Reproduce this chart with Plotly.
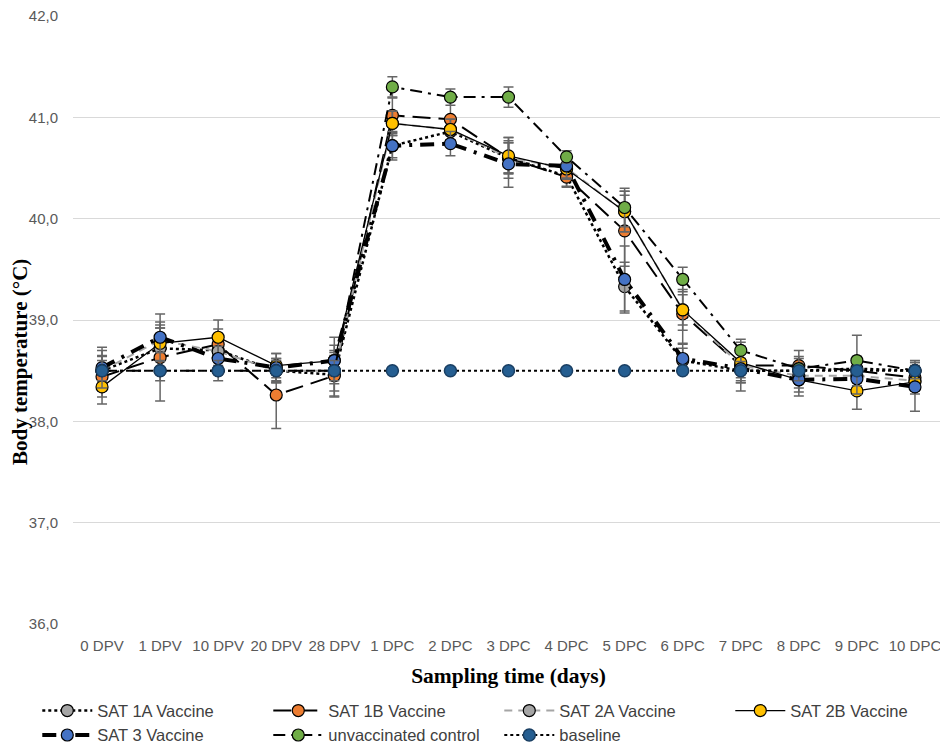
import plotly.graph_objects as go

# sampling points
days = ["0 DPV", "1 DPV", "10 DPV", "20 DPV", "28 DPV", "1 DPC", "2 DPC", "3 DPC",
        "4 DPC", "5 DPC", "6 DPC", "7 DPC", "8 DPC", "9 DPC", "10 DPC"]

# mean body temperature per group
sat1a = [38.50, 38.72, 38.70, 38.50, 38.46, 40.72, 40.86, 40.60, 40.42, 39.33, 38.60, 38.50, 38.50, 38.52, 38.50]
sat1b = [38.44, 38.63, 38.76, 38.26, 38.45, 41.02, 40.98, 40.60, 40.41, 39.88, 39.06, 38.55, 38.55, 38.50, 38.43]
sat2a = [38.50, 38.80, 38.69, 38.50, 38.50, 40.94, 40.88, 40.60, 40.50, 40.07, 39.10, 38.55, 38.45, 38.45, 38.40]
sat2b = [38.34, 38.77, 38.83, 38.55, 38.60, 40.94, 40.88, 40.62, 40.49, 40.07, 39.10, 38.58, 38.41, 38.30, 38.39]
sat3 = [38.53, 38.83, 38.62, 38.53, 38.60, 40.72, 40.74, 40.54, 40.52, 39.40, 38.62, 38.52, 38.41, 38.42, 38.34]
control = [38.50, 38.50, 38.50, 38.50, 38.50, 41.30, 41.20, 41.20, 40.61, 40.11, 39.40, 38.70, 38.52, 38.60, 38.50]
baseline = [38.5] * 15

# error bar half-widths
sat1a_err = [0.20, 0.20, 0.15, 0.12, 0.22, 0.12, 0.10, 0.15, 0.10, 0.24, 0.12, 0.12, 0.12, 0.12, 0.10]
sat1b_err = [0.20, 0.43, 0.15, 0.33, 0.20, 0.17, 0.22, 0.20, 0.10, 0.35, 0.30, 0.15, 0.15, 0.12, 0.12]
sat2a_err = [0.15, 0.12, 0.15, 0.12, 0.20, 0.12, 0.10, 0.15, 0.10, 0.20, 0.15, 0.12, 0.12, 0.12, 0.10]
sat2b_err = [0.17, 0.18, 0.17, 0.12, 0.15, 0.12, 0.10, 0.18, 0.10, 0.20, 0.20, 0.20, 0.12, 0.18, 0.12]
sat3_err = [0.20, 0.15, 0.12, 0.14, 0.23, 0.14, 0.12, 0.23, 0.12, 0.33, 0.15, 0.22, 0.16, 0.15, 0.24]
control_err = [0.10, 0.10, 0.10, 0.10, 0.10, 0.10, 0.08, 0.10, 0.06, 0.19, 0.12, 0.11, 0.12, 0.25, 0.08]

series = [
    ("SAT 1A Vaccine", sat1a, sat1a_err, "#A5A5A5", dict(color="black", width=2.5, dash="dot")),
    ("SAT 1B Vaccine", sat1b, sat1b_err, "#ED7D31", dict(color="black", width=2, dash="18px,8px")),
    ("SAT 2A Vaccine", sat2a, sat2a_err, "#A5A5A5", dict(color="#A5A5A5", width=2, dash="8px,6px")),
    ("SAT 2B Vaccine", sat2b, sat2b_err, "#FFC000", dict(color="black", width=1.3, dash="solid")),
    ("SAT 3 Vaccine", sat3, sat3_err, "#4472C4", dict(color="black", width=4, dash="14px,8px,3px,8px")),
    ("unvaccinated control", control, control_err, "#70AD47", dict(color="black", width=2, dash="12px,6px,3px,6px")),
]

fig = go.Figure()
for name, vals, err, col, line in series:
    fig.add_trace(go.Scatter(
        x=days, y=vals, name=name, mode="lines+markers", line=line,
        marker=dict(size=12, color=col, line=dict(color="black", width=1.2)),
        error_y=dict(type="data", array=err, color="#666666", thickness=1.5, width=5),
    ))

fig.add_trace(go.Scatter(
    x=days, y=baseline, name="baseline", mode="lines+markers",
    line=dict(color="black", width=2, dash="dot"),
    marker=dict(size=12, color="#255E91", line=dict(color="#1a3f63", width=1.5)),
))

# page body adds an 8px offset, so margins are shifted to compensate
fig.update_layout(
    width=948, height=747,
    margin=dict(l=65, r=12, t=8, b=131, autoexpand=False),
    plot_bgcolor="white", paper_bgcolor="white",
    separators=",.",
    font=dict(family="Liberation Sans", color="#595959", size=15),
    xaxis=dict(
        type="category", range=[-0.5, 14.5], showgrid=False, zeroline=False,
        showline=False, automargin=False,
        ticks="", tickfont=dict(size=15, color="#595959"), ticklabelstandoff=11,
        title=dict(text="Sampling time (days)", standoff=14,
                   font=dict(family="Liberation Serif", size=21.5, color="black", weight="bold")),
    ),
    yaxis=dict(
        range=[36, 42], dtick=1, tickformat=".1f", showgrid=True, automargin=False,
        gridcolor="#d9d9d9", gridwidth=1.3, zeroline=False, showline=False,
        ticks="outside", ticklen=11, tickcolor="rgba(0,0,0,0)",
        ticklabeloverflow="allow",
        tickfont=dict(size=15, color="#595959"),
    ),
    legend=dict(
        orientation="h", x=-0.041, xanchor="left", y=-0.114, yanchor="top",
        font=dict(size=16.5, color="#404040"),
        entrywidth=166, entrywidthmode="pixels",
        itemwidth=50, tracegroupgap=0,
    ),
)

# y title sits a little below the middle of the plot, as in the original
fig.add_annotation(
    text="Body temperature (°C)", textangle=-90, showarrow=False,
    xref="paper", yref="paper", x=-0.0608, y=0.431, xanchor="center", yanchor="middle",
    font=dict(family="Liberation Serif", size=21, color="black", weight="bold"),
)

fig.write_html("out.html")
